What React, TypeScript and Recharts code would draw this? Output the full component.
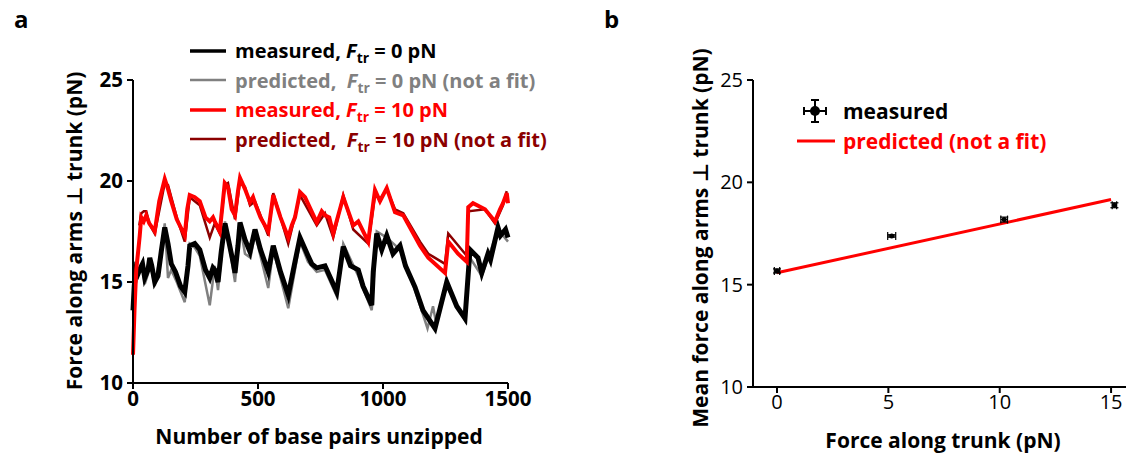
import React from 'react';
import { LineChart, Line, XAxis, YAxis, ComposedChart, Scatter, ErrorBar, Legend } from 'recharts';

// ---------- Panel a data ----------
const bpMeasured0 = [0, 5, 12, 20, 30, 38, 47, 60, 67, 75, 87, 100, 113, 127, 140, 153, 170, 190, 207, 220, 227, 247, 267, 290, 307, 320, 327, 340, 353, 368, 380, 400, 408, 420, 428, 448, 468, 488, 510, 541, 561, 590, 621, 648, 668, 700, 715, 735, 768, 790, 815, 841, 870, 901, 920, 955, 961, 975, 995, 1015, 1040, 1068, 1090, 1128, 1160, 1208, 1255, 1295, 1328, 1348, 1380, 1395, 1420, 1430, 1445, 1460, 1470, 1490, 1500];
const fMeasured0 = [13.6, 14.8, 15.6, 15.4, 15.7, 15.9, 15.2, 15.6, 16.2, 15.8, 15.0, 15.3, 16.5, 17.7, 16.9, 15.9, 15.5, 14.8, 14.5, 15.8, 16.8, 16.9, 16.6, 15.6, 15.2, 15.7, 15.6, 15.0, 16.5, 17.9, 17.2, 16.0, 15.45, 16.8, 17.95, 17.1, 16.5, 17.6, 16.6, 15.5, 16.8, 15.5, 14.35, 16.0, 17.2, 16.3, 15.9, 15.7, 15.8, 15.2, 14.5, 16.75, 15.8, 15.6, 14.8, 13.85, 15.5, 17.4, 16.6, 17.3, 16.4, 16.8, 15.8, 14.75, 13.6, 12.7, 15.0, 13.8, 13.2, 16.6, 16.2, 15.45, 16.4, 16.1, 16.9, 17.7, 17.3, 17.6, 17.2];

const bpPredicted0 = [8, 15, 25, 38, 47, 60, 67, 87, 113, 127, 140, 153, 175, 207, 227, 247, 267, 307, 327, 340, 368, 385, 408, 428, 448, 470, 488, 541, 561, 621, 668, 700, 735, 768, 815, 841, 901, 955, 975, 1015, 1068, 1128, 1178, 1200, 1212, 1255, 1328, 1348, 1395, 1460, 1500];
const fPredicted0 = [14.6, 15.3, 15.5, 15.7, 14.9, 15.4, 16.0, 14.8, 16.6, 17.9, 15.2, 15.6, 15.0, 14.0, 16.9, 16.7, 16.3, 13.85, 15.8, 14.6, 18.0, 16.8, 15.0, 17.8, 16.4, 16.2, 17.4, 14.7, 16.6, 13.7, 17.0, 16.0, 15.5, 15.6, 14.3, 16.9, 15.3, 13.6, 17.5, 17.2, 16.6, 14.6, 12.7, 13.8, 13.0, 14.8, 13.1, 16.2, 15.3, 17.6, 17.0];

const bpMeasured10 = [0, 3, 6, 9, 13, 18, 23, 27, 33, 43, 53, 65, 87, 105, 127, 140, 153, 175, 207, 217, 227, 247, 267, 290, 307, 320, 327, 347, 358, 367, 380, 395, 408, 420, 428, 448, 468, 480, 488, 510, 541, 561, 590, 621, 635, 648, 668, 688, 735, 755, 768, 785, 801, 841, 881, 901, 941, 968, 988, 1015, 1048, 1081, 1148, 1181, 1248, 1261, 1300, 1335, 1341, 1360, 1408, 1448, 1468, 1480, 1495, 1500];
const fMeasured10 = [11.4, 12.5, 13.6, 14.5, 15.6, 16.2, 16.8, 17.3, 18.2, 18.0, 18.3, 17.9, 17.5, 19.0, 20.1, 19.6, 19.0, 18.1, 17.3, 18.6, 19.3, 19.2, 19.0, 18.2, 18.0, 18.2, 18.0, 17.5, 18.8, 19.9, 19.7, 18.6, 18.3, 19.5, 20.15, 19.6, 18.95, 19.2, 18.9, 18.2, 17.5, 19.3, 18.2, 17.2, 17.8, 18.2, 19.45, 19.2, 17.95, 18.5, 18.3, 18.2, 17.4, 19.2, 17.8, 18.0, 17.0, 19.55, 19.0, 19.65, 18.45, 18.3, 16.8, 16.2, 15.45, 17.0, 16.4, 16.0, 18.7, 18.9, 18.6, 18.0, 18.6, 18.9, 19.4, 18.9];

const bpPredicted10 = [25, 33, 43, 53, 65, 87, 127, 140, 153, 175, 207, 227, 247, 267, 307, 327, 347, 367, 380, 408, 428, 448, 468, 488, 541, 561, 621, 668, 735, 768, 801, 841, 881, 941, 968, 988, 1015, 1048, 1081, 1148, 1181, 1248, 1261, 1335, 1341, 1408, 1448, 1480, 1495];
const fPredicted10 = [17.8, 18.4, 18.5, 18.5, 17.9, 17.4, 19.9, 19.8, 19.2, 18.2, 17.0, 19.2, 19.0, 18.8, 17.2, 17.9, 17.4, 19.8, 19.9, 18.1, 20.0, 19.7, 18.8, 19.0, 17.3, 19.4, 16.9, 19.3, 17.8, 18.4, 17.2, 19.3, 17.6, 16.9, 19.3, 19.1, 19.6, 18.6, 18.4, 17.0, 16.4, 15.9, 17.4, 16.3, 18.5, 18.6, 17.9, 18.8, 19.5];

const xTicksA = [0, 500, 1000, 1500];
const yTicks = [10, 15, 20, 25];

// ---------- Panel b data ----------
const trunkForce = [0, 5.15, 10.2, 15.15];
const meanForce = [15.67, 17.38, 18.18, 18.88];
const meanForceErr = [0.1, 0.06, 0.12, 0.12];
const trunkForceErr = [0.12, 0.18, 0.15, 0.1];
const predTrunk = [0, 15];
const predMean = [15.58, 19.16];
const xTicksB = [0, 5, 10, 15];

const toPts = (xs: number[], ys: number[]) => xs.map((x, i) => ({ bp: x, f: ys[i] }));
const measured0 = toPts(bpMeasured0, fMeasured0);
const predicted0 = toPts(bpPredicted0, fPredicted0);
const measured10 = toPts(bpMeasured10, fMeasured10);
const predicted10 = toPts(bpPredicted10, fPredicted10);
const measuredB = trunkForce.map((x, i) => ({ x, y: meanForce[i], ey: meanForceErr[i], ex: trunkForceErr[i] }));
const predictedB = predTrunk.map((x, i) => ({ x, y: predMean[i] }));

const FONT = "'Open Sans', 'DejaVu Sans', sans-serif";
const GRAY = '#808080';
const DARKRED = '#8b0000';
const RED = '#ff0000';

const legendA = [
  { color: '#000000', pre: 'measured, ', val: ' = 0 pN', post: '', w: 3.5 },
  { color: GRAY, pre: 'predicted,\u00a0 ', val: ' = 0 pN', post: ' (not a fit)', w: 2.5 },
  { color: RED, pre: 'measured, ', val: ' = 10 pN', post: '', w: 3.5 },
  { color: DARKRED, pre: 'predicted,\u00a0 ', val: ' = 10 pN', post: ' (not a fit)', w: 2.5 },
];

const LegendA = () => (
  <div style={{ fontFamily: FONT, fontWeight: 700, fontSize: 20, lineHeight: '29.5px' }}>
    {legendA.map((r, i) => (
      <div key={i} style={{ display: 'flex', alignItems: 'center', height: 29.5, color: r.color, whiteSpace: 'pre' }}>
        <svg width={36} height={6} style={{ marginRight: 9, flex: 'none' }}>
          <line x1={0} y1={3} x2={36} y2={3} stroke={r.color} strokeWidth={r.w} />
        </svg>
        <span>
          {r.pre}
          <i>F</i>
          <sub style={{ fontSize: 14, fontStyle: 'normal', lineHeight: 0 }}>tr</sub>
          {r.val}
          {r.post}
        </span>
      </div>
    ))}
  </div>
);

const LegendB = () => (
  <div style={{ fontFamily: FONT, fontWeight: 700, fontSize: 21 }}>
    <div style={{ display: 'flex', alignItems: 'center', height: 30, color: '#000' }}>
      <svg width={40} height={30} style={{ marginRight: 8, flex: 'none' }}>
        <line x1={9} y1={15} x2={31} y2={15} stroke="#000" strokeWidth={2} />
        <line x1={9} y1={11} x2={9} y2={19} stroke="#000" strokeWidth={2} />
        <line x1={31} y1={11} x2={31} y2={19} stroke="#000" strokeWidth={2} />
        <line x1={20} y1={4} x2={20} y2={26} stroke="#000" strokeWidth={2} />
        <line x1={16} y1={4} x2={24} y2={4} stroke="#000" strokeWidth={2} />
        <line x1={16} y1={26} x2={24} y2={26} stroke="#000" strokeWidth={2} />
        <circle cx={20} cy={15} r={5} fill="#000" />
      </svg>
      <span>measured</span>
    </div>
    <div style={{ display: 'flex', alignItems: 'center', height: 30, color: RED }}>
      <svg width={40} height={6} style={{ marginRight: 8, flex: 'none' }}>
        <line x1={2} y1={3} x2={40} y2={3} stroke={RED} strokeWidth={3} />
      </svg>
      <span>predicted (not a fit)</span>
    </div>
  </div>
);

const axisStyle = { stroke: '#000', strokeWidth: 2 };

export default function App() {
  return (
    <>
      <div style={{ width: 1110, height: 437 }} />
      <div style={{ position: 'fixed', left: 0, top: 0, width: 1126, height: 453, overflow: 'hidden', background: '#fff', fontFamily: FONT }}>
        <div style={{ position: 'absolute', left: 14, top: 2, fontSize: 24, fontWeight: 700 }}>a</div>
        <div style={{ position: 'absolute', left: 604, top: 2, fontSize: 24, fontWeight: 700 }}>b</div>

        {/* Panel a */}
        <div style={{ position: 'absolute', left: 0, top: 0 }}>
          <LineChart width={560} height={453} margin={{ top: 80, right: 52, bottom: 40, left: 73 }}>
            <XAxis
              dataKey="bp"
              type="number"
              domain={[0, 1500]}
              ticks={xTicksA}
              height={30}
              axisLine={axisStyle}
              tickLine={axisStyle}
              tickSize={6}
              tick={{ fill: '#000', fontSize: 20.5, fontWeight: 700, fontFamily: FONT }}
              allowDuplicatedCategory={false}
            />
            <YAxis
              type="number"
              domain={[10, 25]}
              ticks={yTicks}
              width={60}
              axisLine={axisStyle}
              tickLine={axisStyle}
              tickSize={6}
              tickMargin={4}
              tick={{ fill: '#000', fontSize: 20.5, fontWeight: 700, fontFamily: FONT }}
            />
            <Legend
              layout="horizontal"
              verticalAlign="middle"
              align="center"
              content={() => <LegendA />}
              wrapperStyle={{ position: 'absolute', left: 190, top: 36, width: 370, height: 118 }}
            />
            <Line data={predicted0} dataKey="f" stroke={GRAY} strokeWidth={2.5} dot={false} isAnimationActive={false} type="linear" />
            <Line data={measured0} dataKey="f" stroke="#000" strokeWidth={5} dot={false} isAnimationActive={false} type="linear" />
            <Line data={predicted10} dataKey="f" stroke={DARKRED} strokeWidth={2.5} dot={false} isAnimationActive={false} type="linear" />
            <Line data={measured10} dataKey="f" stroke={RED} strokeWidth={4} dot={false} isAnimationActive={false} type="linear" />
          </LineChart>
        </div>

        <div style={{ position: 'absolute', left: 74, top: 231, transform: 'translate(-50%, -50%) rotate(-90deg)', whiteSpace: 'nowrap', fontSize: 21, fontWeight: 700 }}>
          Force along arms ⊥ trunk (pN)
        </div>
        <div style={{ position: 'absolute', left: 319, top: 436, transform: 'translate(-50%, -50%)', whiteSpace: 'nowrap', fontSize: 21, fontWeight: 700 }}>
          Number of base pairs unzipped
        </div>

        {/* Panel b */}
        <div style={{ position: 'absolute', left: 600, top: 0 }}>
          <ComposedChart width={526} height={453} margin={{ top: 80, right: 0, bottom: 36, left: 93 }}>
            <XAxis
              dataKey="x"
              type="number"
              domain={[-1.078, 15.67]}
              allowDataOverflow
              ticks={xTicksB}
              height={30}
              axisLine={axisStyle}
              tickLine={axisStyle}
              tickSize={6}
              tick={{ fill: '#000', fontSize: 20, fontFamily: FONT }}
            />
            <YAxis
              dataKey="y"
              type="number"
              domain={[10, 25]}
              ticks={yTicks}
              width={60}
              axisLine={axisStyle}
              tickLine={axisStyle}
              tickSize={6}
              tickMargin={4}
              tick={{ fill: '#000', fontSize: 20, fontFamily: FONT }}
            />
            <Legend
              layout="horizontal"
              verticalAlign="middle"
              align="center"
              content={() => <LegendB />}
              wrapperStyle={{ position: 'absolute', left: 195, top: 96, width: 320, height: 60 }}
            />
            <Line data={predictedB} dataKey="y" stroke={RED} strokeWidth={3} dot={false} isAnimationActive={false} type="linear" />
            <Scatter data={measuredB} dataKey="y" fill="#000" isAnimationActive={false} shape={(p: any) => <circle cx={p.cx} cy={p.cy} r={2.5} fill="#000" />}>
              <ErrorBar dataKey="ey" direction="y" width={4} stroke="#000" strokeWidth={1.2} />
              <ErrorBar dataKey="ex" direction="x" width={4} stroke="#000" strokeWidth={1.2} />
            </Scatter>
          </ComposedChart>
        </div>

        <div style={{ position: 'absolute', left: 700, top: 238, transform: 'translate(-50%, -50%) rotate(-90deg)', whiteSpace: 'nowrap', fontSize: 21, fontWeight: 700 }}>
          Mean force along arms ⊥ trunk (pN)
        </div>
        <div style={{ position: 'absolute', left: 943, top: 440, transform: 'translate(-50%, -50%)', whiteSpace: 'nowrap', fontSize: 21, fontWeight: 700 }}>
          Force along trunk (pN)
        </div>
      </div>
    </>
  );
}
